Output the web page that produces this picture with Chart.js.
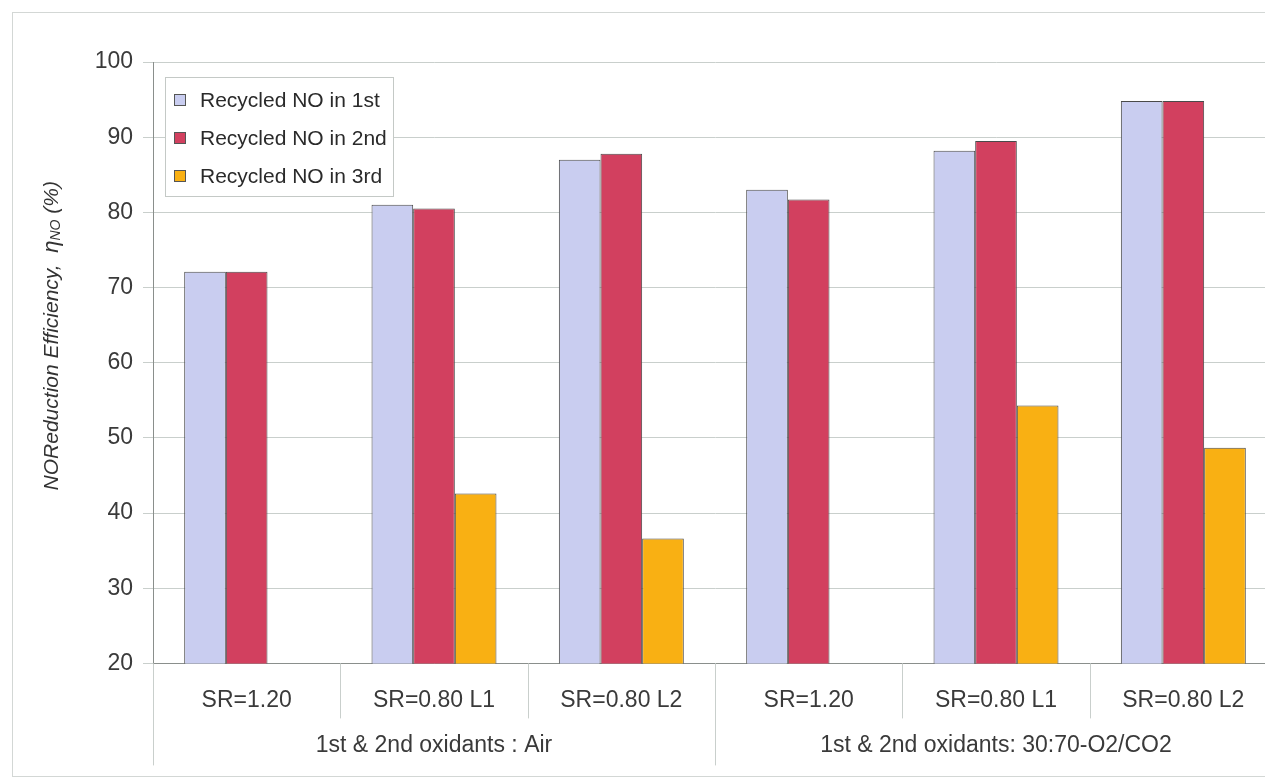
<!DOCTYPE html>
<html>
<head>
    <meta charset="utf-8">
    <title>NO reduction efficiency</title>
    <style>
        html, body { margin: 0; padding: 0; background: #fff; overflow: hidden; }
        #wrap { position: relative; width: 1265px; height: 780px; overflow: hidden; }
        #wrap canvas { position: absolute; left: 0; top: 0; }
    </style>
</head>
<body>
<div id="wrap"><canvas id="chart" width="1290" height="780"></canvas></div>

<script src="https://cdn.jsdelivr.net/npm/chart.js@4.4.1/dist/chart.umd.min.js"></script>
<script>
var categories = ['SR=1.20', 'SR=0.80 L1', 'SR=0.80 L2', 'SR=1.20', 'SR=0.80 L1', 'SR=0.80 L2'];
var groups = ['1st & 2nd oxidants : Air', '1st & 2nd oxidants: 30:70-O2/CO2'];
var seriesNames = ['Recycled NO in 1st', 'Recycled NO in 2nd', 'Recycled NO in 3rd'];
var recycled1st = [72.1, 81.0, 87.0, 83.0, 88.2, 94.8];
var recycled2nd = [72.1, 80.5, 87.8, 81.7, 89.5, 94.8];
var recycled3rd = [null, 42.6, 36.6, null, 54.3, 48.7];
var yMin = 20, yMax = 100, yStep = 10;

var FONT = "'Liberation Sans', Arial, sans-serif";
var colors = ['#c9cdf0', '#d2405f', '#f9b013'];

// outer frame of the figure
var frame = {
    id: 'frame',
    beforeDraw: function(chart) {
        var ctx = chart.ctx;
        ctx.save();
        ctx.fillStyle = '#fff';
        ctx.fillRect(0, 0, chart.width, chart.height);
        ctx.strokeStyle = '#d3d7d5';
        ctx.lineWidth = 1;
        ctx.strokeRect(12.5, 12.5, chart.width + 20, 764);
        ctx.restore();
    }
};

// box lines under the x axis + the two group labels
var xBoxes = {
    id: 'xBoxes',
    afterDraw: function(chart) {
        var ctx = chart.ctx, xs = chart.scales.x, ca = chart.chartArea;
        var n = categories.length, per = n / groups.length;
        ctx.save();
        ctx.strokeStyle = '#c9cfcc';
        ctx.lineWidth = 1;
        for (var i = 0; i <= n; i++) {
            var x;
            if (i === 0) x = ca.left;
            else if (i === n) x = ca.right;
            else x = (xs.getPixelForTick(i - 1) + xs.getPixelForTick(i)) / 2;
            x = Math.round(x) + 0.5;
            var len = (i % per === 0) ? 102 : 55;
            ctx.beginPath();
            ctx.moveTo(x, ca.bottom);
            ctx.lineTo(x, ca.bottom + len);
            ctx.stroke();
        }
        ctx.fillStyle = '#3a3a3a';
        ctx.font = '23px ' + FONT;
        ctx.textAlign = 'center';
        ctx.textBaseline = 'middle';
        groups.forEach(function(g, k) {
            var a = xs.getPixelForTick(k * per), b = xs.getPixelForTick(k * per + per - 1);
            ctx.fillText(g, (a + b) / 2, ca.bottom + 82);
        });
        ctx.restore();
    }
};

// boxed legend in the top-left of the plot
var legendBox = {
    id: 'legendBox',
    afterDraw: function(chart) {
        var ctx = chart.ctx, ca = chart.chartArea;
        var x0 = ca.left + 12, y0 = ca.top + 15, w = 228, h = 119;
        ctx.save();
        ctx.fillStyle = '#fff';
        ctx.fillRect(x0, y0, w, h);
        ctx.strokeStyle = '#c4c9c6';
        ctx.lineWidth = 1;
        ctx.strokeRect(x0 + 0.5, y0 + 0.5, w, h);
        ctx.font = '21px ' + FONT;
        ctx.textBaseline = 'middle';
        chart.data.datasets.forEach(function(ds, i) {
            var cy = y0 + 23 + i * 38;
            ctx.fillStyle = ds.backgroundColor;
            ctx.fillRect(x0 + 9, cy - 6, 12, 12);
            ctx.strokeStyle = '#555';
            ctx.strokeRect(x0 + 9.5, cy - 5.5, 11, 11);
            ctx.fillStyle = '#2a2a2a';
            ctx.fillText(ds.label, x0 + 35, cy + 1);
        });
        ctx.restore();
    }
};

// rotated y title with the small "NO" after eta
var yTitle = {
    id: 'yTitle',
    afterDraw: function(chart) {
        var ctx = chart.ctx, ca = chart.chartArea;
        var parts = [
            ['NOReduction Efficiency,  ', 'italic 21px ' + FONT, 0],
            ['\u03b7', 'italic 22px ' + FONT, 0],
            ['NO', 'italic 14px ' + FONT, 2],
            [' (%)', 'italic 21px ' + FONT, 0]
        ];
        ctx.save();
        var total = 0;
        parts.forEach(function(p) { ctx.font = p[1]; total += ctx.measureText(p[0]).width; });
        ctx.translate(58, (ca.top + ca.bottom) / 2 - 27);
        ctx.rotate(-Math.PI / 2);
        ctx.fillStyle = '#333';
        ctx.textBaseline = 'alphabetic';
        var x = -total / 2;
        parts.forEach(function(p) {
            ctx.font = p[1];
            ctx.fillText(p[0], x, p[2]);
            x += ctx.measureText(p[0]).width;
        });
        ctx.restore();
    }
};

var datasets = [recycled1st, recycled2nd, recycled3rd].map(function(d, i) {
    return {
        label: seriesNames[i],
        data: d,
        backgroundColor: colors[i],
        borderColor: '#4a4a4a',
        borderWidth: 1,
        borderSkipped: false,
        categoryPercentage: 0.667,
        barPercentage: 1.0
    };
});

var chart = new Chart(document.getElementById('chart'), {
    type: 'bar',
    data: { labels: categories, datasets: datasets },
    options: {
        responsive: false,
        animation: false,
        layout: { padding: { top: 62, right: 13, bottom: 43, left: 0 } },
        plugins: {
            legend: { display: false },
            tooltip: { enabled: false }
        },
        scales: {
            x: {
                grid: { display: false, drawTicks: false },
                border: { color: '#8a8f8c', width: 1 },
                ticks: {
                    color: '#3a3a3a',
                    font: { family: FONT, size: 23 },
                    padding: 23,
                    maxRotation: 0,
                    autoSkip: false
                }
            },
            y: {
                min: yMin,
                max: yMax,
                afterFit: function(s) { s.width = 153; },
                grid: { color: '#c9cfcc', tickLength: 10 },
                border: { color: '#8a8f8c', width: 1 },
                ticks: {
                    stepSize: yStep,
                    color: '#3a3a3a',
                    font: { family: FONT, size: 23 },
                    padding: 10
                }
            }
        }
    },
    plugins: [frame, xBoxes, legendBox, yTitle]
});
</script>
</body>
</html>
